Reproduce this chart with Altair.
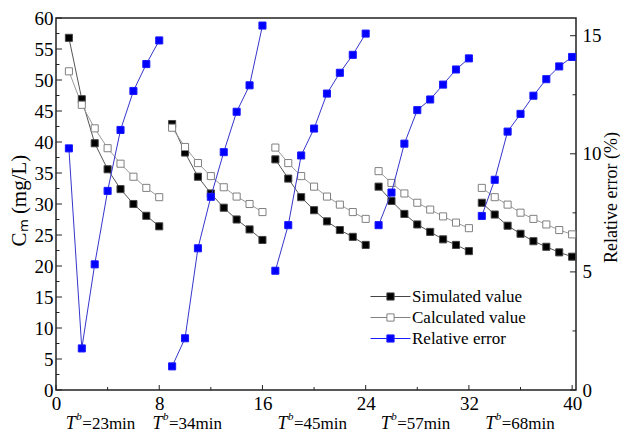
import altair as alt
import pandas as pd

# ---------------- data ----------------
x_pos = list(range(1, 41))
simulated = [56.8, 46.9, 39.8, 35.6, 32.4, 30.0, 28.1, 26.4,
             42.9, 38.3, 34.4, 31.7, 29.4, 27.5, 25.9, 24.2,
             37.2, 34.1, 31.1, 29.0, 27.2, 25.8, 24.7, 23.4,
             32.8, 30.5, 28.4, 26.7, 25.5, 24.3, 23.4, 22.4,
             30.2, 28.3, 26.5, 25.2, 24.0, 23.1, 22.2, 21.5]
calculated = [51.4, 46.0, 42.2, 39.0, 36.5, 34.4, 32.6, 31.1,
              42.3, 39.2, 36.6, 34.5, 32.7, 31.2, 30.0, 28.7,
              39.1, 36.6, 34.5, 32.8, 31.2, 29.9, 28.7, 27.6,
              35.3, 33.4, 31.7, 30.2, 29.1, 28.0, 27.0, 26.1,
              32.6, 31.1, 29.9, 28.6, 27.6, 26.7, 25.8, 25.1]
relative_error = [10.23, 1.76, 5.32, 8.43, 11.01, 12.66, 13.8, 14.8,
                  1.0, 2.19, 6.0, 8.18, 10.07, 11.78, 12.9, 15.43,
                  5.05, 6.98, 9.93, 11.07, 12.55, 13.43, 14.19, 15.09,
                  6.98, 8.36, 10.43, 11.85, 12.3, 12.93, 13.57, 14.04,
                  7.37, 8.9, 10.94, 11.69, 12.46, 13.16, 13.7, 14.1]
series_names = ["Simulated value", "Calculated value", "Relative error"]
period_texts = ["=23min", "=34min", "=45min", "=57min", "=68min"]
period_x = [0.76, 7.48, 17.16, 25.17, 33.26]
x_ticks = [0, 8, 16, 24, 32, 40]
x_minor = [4, 12, 20, 28, 36]
yl_ticks = list(range(0, 61, 5))
yl_minor = [2.5 + 5 * i for i in range(12)]
yr_ticks = [0, 5, 10, 15]
yr_minor = [2.5, 7.5, 12.5]

W, H = 520, 372
FONT = "Liberation Serif, 'Times New Roman', Times, serif"
group = [(x - 1) // 8 for x in x_pos]

df_left = pd.DataFrame({
    "x": x_pos * 2,
    "value": simulated + calculated,
    "series": [series_names[0]] * 40 + [series_names[1]] * 40,
    "group": group * 2,
})
df_rel = pd.DataFrame({"x": x_pos, "value": relative_error,
                       "series": series_names[2], "group": group})

X = alt.X("x:Q", scale=alt.Scale(domain=[0, 40.3], nice=False, zero=False),
          axis=alt.Axis(values=x_ticks, title=None, orient="bottom", labelFontSize=19,
                        labelPadding=4, ticks=False, tickSize=0, domain=False, grid=False,
                        labelFlush=False, format="d"))
YL = alt.Y("value:Q", scale=alt.Scale(domain=[0, 60], nice=False, zero=True),
           axis=alt.Axis(values=yl_ticks, orient="left", title="Cₘ (mg/L)", titleFontSize=21,
                         titleFontWeight="normal", titleAngle=270, titleX=-37, titleY=182,
                         titleAlign="center", titleBaseline="middle",
                         labelFontSize=19, labelPadding=3, ticks=False, tickSize=0,
                         domain=False, grid=False, format="d"))
YR = alt.Y("value:Q", scale=alt.Scale(domain=[0, 15.75], nice=False, zero=True),
           axis=alt.Axis(values=yr_ticks, orient="right", title="Relative error (%)",
                         titleFontSize=18, titleFontWeight="normal", titleAngle=270,
                         titleX=35, titleY=179, titleAlign="center", titleBaseline="middle",
                         labelFontSize=19, labelPadding=6, ticks=False, tickSize=0,
                         domain=False, grid=False, format="d"))

SYMBOL = "M-2,0H-0.36M0.36,0H2M-0.36,-0.36H0.36V0.36H-0.36Z"
leg = alt.Legend(title=None, orient="none", legendX=324, legendY=268, symbolType=SYMBOL,
                 symbolSize=400, symbolStrokeWidth=1, labelFontSize=17, labelOffset=11,
                 rowPadding=2, labelFont=FONT, labelColor="black", symbolOpacity=1)
FILL = alt.Fill("series:N", scale=alt.Scale(domain=series_names,
                                            range=["#000000", "#ffffff", "#0000ff"]), legend=leg)
STROKE = alt.Stroke("series:N", scale=alt.Scale(domain=series_names,
                                                range=["#444444", "#808080", "#1a1aff"]), legend=leg)

base_left = alt.Chart(df_left)
line_sim = base_left.transform_filter(alt.datum.series == series_names[0]).mark_line(
    color="#555555", strokeWidth=1).encode(x=X, y=YL, detail="group:N")
line_calc = base_left.transform_filter(alt.datum.series == series_names[1]).mark_line(
    color="#9a9a9a", strokeWidth=1).encode(x=X, y=YL, detail="group:N")
pts_left = base_left.mark_square(size=50, strokeWidth=1, opacity=1).encode(
    x=X, y=YL, fill=FILL, stroke=STROKE)

tick_l = alt.Chart(pd.DataFrame({"value": yl_ticks})).mark_rule(color="#222222", strokeWidth=1).encode(
    y=YL, x=alt.value(0), x2=alt.value(6))
tick_lm = alt.Chart(pd.DataFrame({"value": yl_minor})).mark_rule(color="#222222", strokeWidth=1).encode(
    y=YL, x=alt.value(0), x2=alt.value(3.5))
tick_b = alt.Chart(pd.DataFrame({"x": x_ticks})).mark_rule(color="#222222", strokeWidth=1).encode(
    x=X, y=alt.value(H), y2=alt.value(H - 5))
tick_bm = alt.Chart(pd.DataFrame({"x": x_minor})).mark_rule(color="#222222", strokeWidth=1).encode(
    x=X, y=alt.value(H), y2=alt.value(H - 3))

LBL_Y = H + 34
df_period = pd.DataFrame({"x": period_x, "label": period_texts})
per_T = alt.Chart(df_period).mark_text(text="T", font=FONT, fontStyle="italic", fontSize=18,
                                       align="left", baseline="middle", color="black").encode(
    x=X, y=alt.value(LBL_Y))
per_b = alt.Chart(df_period).mark_text(text="b", font=FONT, fontStyle="italic", fontSize=11,
                                       align="left", baseline="middle", color="black",
                                       dx=10.5, dy=-7).encode(x=X, y=alt.value(LBL_Y))
per_rest = alt.Chart(df_period).mark_text(font=FONT, fontSize=17, align="left",
                                          baseline="middle", color="black", dx=16.5).encode(
    x=X, y=alt.value(LBL_Y), text="label:N")

left = alt.layer(line_sim, line_calc, pts_left, tick_l, tick_lm, tick_b, tick_bm,
                 per_T, per_b, per_rest)

line_rel = alt.Chart(df_rel).mark_line(color="#3535cc", strokeWidth=1).encode(
    x=X, y=YR, detail="group:N")
pts_rel = alt.Chart(df_rel).mark_square(size=50, strokeWidth=1, opacity=1).encode(
    x=X, y=YR, fill=FILL, stroke=STROKE)
tick_r = alt.Chart(pd.DataFrame({"value": yr_ticks})).mark_rule(color="#222222", strokeWidth=1).encode(
    y=YR, x=alt.value(W - 6), x2=alt.value(W))
tick_rm = alt.Chart(pd.DataFrame({"value": yr_minor})).mark_rule(color="#222222", strokeWidth=1).encode(
    y=YR, x=alt.value(W - 3.5), x2=alt.value(W))
right = alt.layer(line_rel, pts_rel, tick_r, tick_rm)

chart = alt.layer(left, right).resolve_scale(y="independent").properties(
    width=W, height=H,
    autosize=alt.AutoSizeParams(type="none"),
    padding={"left": 48, "top": 10, "right": 44, "bottom": 44},
).configure(font=FONT).configure_view(stroke="#222222", strokeWidth=1.5).configure_axis(
    labelColor="black", titleColor="black", labelFont=FONT, titleFont=FONT)

chart.save("out.html", embed_options={"renderer": "svg", "actions": False})
